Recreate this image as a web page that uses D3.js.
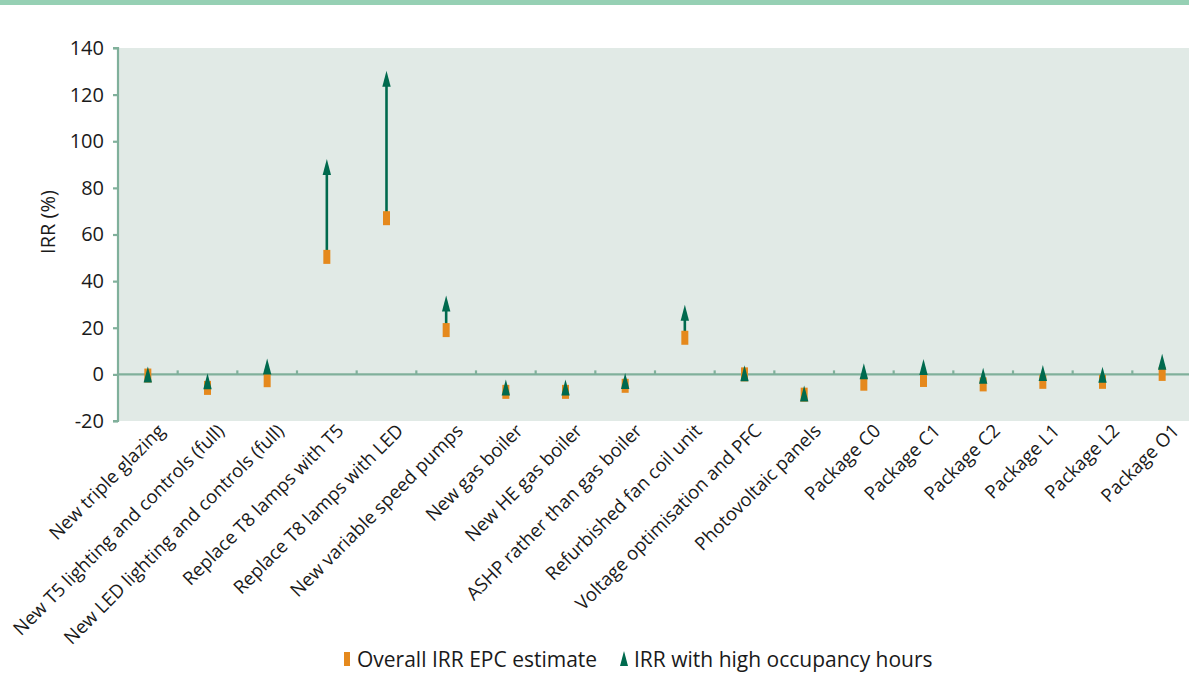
<!DOCTYPE html>
<html>
<head>
<meta charset="utf-8">
<script src="https://cdn.jsdelivr.net/npm/d3@7"></script>
<style>
  html, body { margin: 0; padding: 0; background: #ffffff; }
  svg { display: block; }
  text { font-family: "Open Sans", "Noto Sans", sans-serif; fill: #1a1a1a; }
</style>
</head>
<body>
<svg id="chart" width="1189" height="674"></svg>
<script>
const categories = [
  "New triple glazing",
  "New T5 lighting and controls (full)",
  "New LED lighting and controls (full)",
  "Replace T8 lamps with T5",
  "Replace T8 lamps with LED",
  "New variable speed pumps",
  "New gas boiler",
  "New HE gas boiler",
  "ASHP rather than gas boiler",
  "Refurbished fan coil unit",
  "Voltage optimisation and PFC",
  "Photovoltaic panels",
  "Package C0",
  "Package C1",
  "Package C2",
  "Package L1",
  "Package L2",
  "Package O1"
];
const epcEstimate = [-0.5, -5.8, -2.5, 50.4, 67, 19, -7.5, -7.5, -4.9, 15.7, 0, -8.7, -4, -2.4, -4.3, -3.2, -3.2, 0.2];
const highOccupancy = [0, -3, 3.4, 89, 126.8, 30.4, -5.6, -5.6, -2.8, 26.4, 0.5, -8.2, 1.3, 3.2, -0.6, 0.6, -0.2, 5.4];
const yTicks = [-20, 0, 20, 40, 60, 80, 100, 120, 140];
const seriesNames = ["Overall IRR EPC estimate", "IRR with high occupancy hours"];

const W = 1189, H = 674;
const colAxis = "#80b09b", colBg = "#e1eae6", colOrange = "#e5891d", colGreen = "#006a4e";

const svg = d3.select("#chart");
const data = categories.map((c, i) => ({ c, epc: epcEstimate[i], high: highOccupancy[i] }));

const x = d3.scaleBand().domain(categories).range([118, 1192]).paddingInner(0).paddingOuter(0);
const y = d3.scaleLinear().domain([-20, 140]).range([421, 48]);

// top band
svg.append("rect").attr("x", 0).attr("y", 0).attr("width", W).attr("height", 5).attr("fill", "#96d0b4");

// plot background
svg.append("rect").attr("x", 119).attr("y", y(140)).attr("width", W - 119).attr("height", y(-20) - y(140)).attr("fill", colBg);

// y axis
const yAxis = d3.axisLeft(y).tickValues(yTicks).tickFormat(d => String(d)).tickSize(5).tickPadding(9);
const gy = svg.append("g").attr("transform", "translate(118,0)").call(yAxis);
gy.attr("font-size", null).attr("font-family", null);
gy.select(".domain").attr("stroke", colAxis).attr("stroke-width", 2.2).attr("d", `M-5,${y(140)}H0V${y(-20)}H-5`);
gy.selectAll(".tick line").attr("stroke", colAxis).attr("stroke-width", 2.2);
gy.selectAll(".tick text").attr("font-size", 20).attr("fill", "#1a1a1a");

// zero line
svg.append("line").attr("x1", 118).attr("x2", W).attr("y1", y(0)).attr("y2", y(0))
  .attr("stroke", colAxis).attr("stroke-width", 2.2);
// category separators on zero line
svg.append("g").selectAll("line").data(categories.slice(1)).join("line")
  .attr("x1", d => x(d)).attr("x2", d => x(d))
  .attr("y1", y(0)).attr("y2", y(0) - 4)
  .attr("stroke", colAxis).attr("stroke-width", 2.2);

// x labels
svg.append("g").selectAll("text").data(categories).join("text")
  .attr("transform", d => `translate(${x(d) + x.bandwidth() / 2 + 18},${432}) rotate(-45)`)
  .attr("text-anchor", "end")
  .attr("font-size", 18.6)
  .text(d => d);

// y label
svg.append("text").attr("transform", `translate(55,${222}) rotate(-90)`)
  .attr("text-anchor", "middle").attr("font-size", 20).text("IRR (%)");

const cx = d => x(d.c) + x.bandwidth() / 2;

// arrow shafts
svg.append("g").selectAll("line").data(data.filter(d => d.high > d.epc)).join("line")
  .attr("x1", cx).attr("x2", cx)
  .attr("y1", d => y(d.epc)).attr("y2", d => y(d.high))
  .attr("stroke", colGreen).attr("stroke-width", 2.6);

// orange markers
svg.append("g").selectAll("rect").data(data).join("rect")
  .attr("x", d => cx(d) - 3.5).attr("y", d => y(d.epc) - 7)
  .attr("width", 7).attr("height", 14).attr("fill", colOrange);

// green triangles
svg.append("g").selectAll("path").data(data).join("path")
  .attr("d", d => { const px = cx(d), py = y(d.high); return `M${px},${py - 8}L${px + 4.2},${py + 8}L${px - 4.2},${py + 8}Z`; })
  .attr("fill", colGreen);

// legend
const lg = svg.append("g");
lg.append("rect").attr("x", 344).attr("y", 652).attr("width", 6).attr("height", 14).attr("fill", colOrange);
lg.append("text").attr("x", 357).attr("y", 667).attr("font-size", 21).text(seriesNames[0]);
lg.append("path").attr("d", "M624,651L628,666L620,666Z").attr("fill", colGreen);
lg.append("text").attr("x", 634).attr("y", 667).attr("font-size", 21).text(seriesNames[1]);
</script>
</body>
</html>
